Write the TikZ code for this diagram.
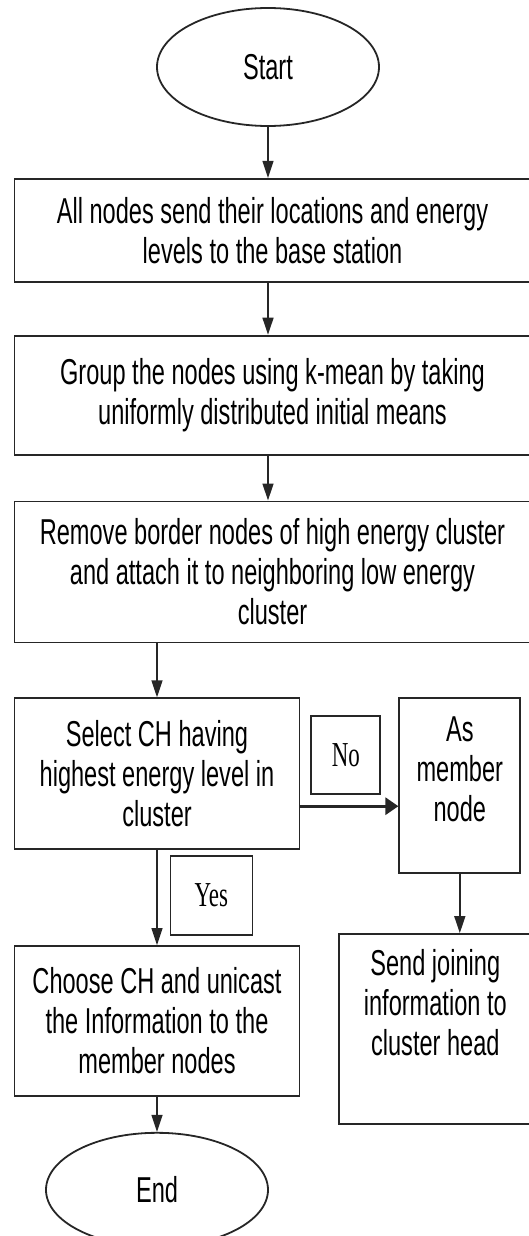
\documentclass[tikz,border=0pt]{standalone}
\usepackage{fontspec}
\setmainfont[FakeStretch=0.655]{Liberation Sans}
\newfontfamily\answerfont[FakeStretch=0.655]{Liberation Serif}
\usetikzlibrary{arrows.meta, positioning, shapes.geometric}

\begin{document}
\begin{tikzpicture}[
    x=1pt, y=1pt,
    every node/.style={draw=black!85, line width=1.8pt, align=center, inner sep=0pt,
      font=\fontsize{36pt}{40pt}\selectfont},
    terminal/.style={ellipse, minimum width=222pt},
    process/.style={rectangle, minimum width=285pt},
    answer/.style={rectangle, font=\answerfont\fontsize{35pt}{40pt}\selectfont},
    flow/.style={draw=black!85, line width=1.4pt, -{Triangle[length=17pt, width=11pt]}},
  ]
  \useasboundingbox (0,0) rectangle (529,-1236);

  \node (start) [terminal, minimum height=118pt] at (268,-67) {Start};
  \node (locate) [process, minimum width=516pt, minimum height=103pt,
    below=51pt of start, xshift=4.5pt]
    {All nodes send their locations and energy\\levels to the base station};
  \node (group) [process, minimum width=516pt, minimum height=119pt, below=52pt of locate]
    {Group the nodes using k-mean by taking\\uniformly distributed initial means};
  \node (remove) [process, minimum width=516pt, minimum height=141pt, below=45pt of group]
    {Remove border nodes of high energy cluster\\and attach it to neighboring low energy\\cluster};
  \node (select) [process, minimum height=151pt, below=54pt of remove.south west, anchor=north west]
    {Select CH having\\highest energy level in\\cluster};
  \node (no) [answer, minimum width=69pt, minimum height=78pt,
    right=10pt of select.north east, anchor=north west, yshift=-18pt] {No};
  \node (member) [process, minimum width=121pt, minimum height=175pt, text depth=33pt,
    right=98pt of select.north east, anchor=north west] {As\\member\\node};
  \node (yes) [answer, minimum width=82pt, minimum height=79pt,
    below=5pt of select.south, anchor=north west, xshift=12.5pt] {Yes};
  \node (choose) [process, minimum height=150pt, below=95pt of select]
    {Choose CH and unicast\\the Information to the\\member nodes};
  \node (join) [process, minimum width=192pt, minimum height=190pt, text depth=54pt,
    below=59pt of member.south west, anchor=north west, xshift=-60pt]
    {Send joining\\information to\\cluster head};
  \node (end) [terminal, minimum height=114pt, below=35pt of choose] {End};

  \draw[flow] (start.south) -- (start.south |- locate.north);
  \draw[flow] (locate.south -| start.south) -- (group.north -| start.south);
  \draw[flow] (group.south -| start.south) -- (remove.north -| start.south);
  \draw[flow] (remove.south -| select.north) -- (select.north);
  \draw[flow, line width=3pt, -{Triangle[length=13pt, width=17pt]}]
    ([yshift=-32.5pt]select.east) -- ([yshift=-32.5pt]select.east -| member.west);
  \draw[flow] (member.south) -- (member.south |- join.north);
  \draw[flow] (select.south) -- (choose.north);
  \draw[flow] (choose.south) -- (end.north);
\end{tikzpicture}
\end{document}
